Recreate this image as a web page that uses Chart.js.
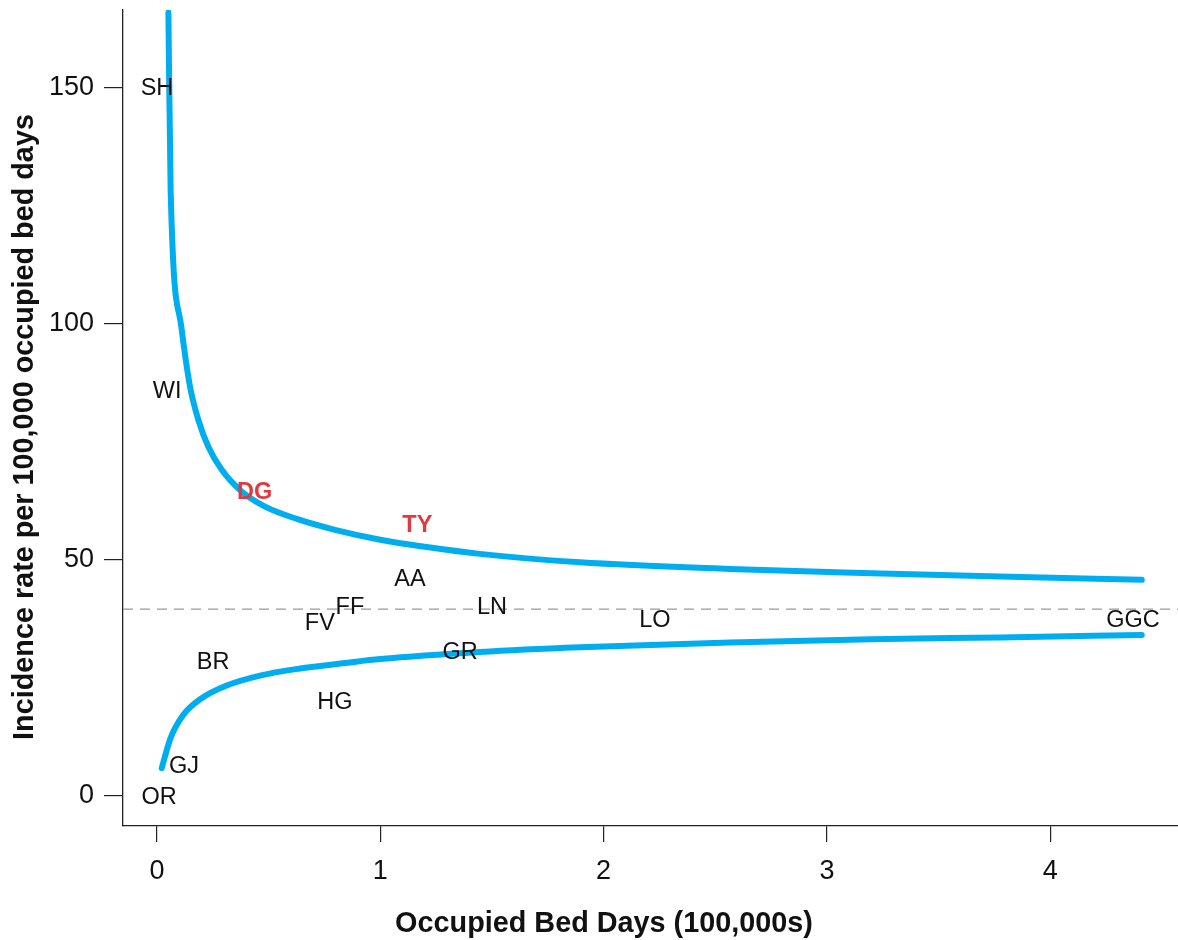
<!DOCTYPE html>
<html>
<head>
<meta charset="utf-8">
<script src="https://cdn.jsdelivr.net/npm/chart.js@4/dist/chart.umd.min.js"></script>
<style>
  html, body { margin: 0; padding: 0; background: #ffffff; }
  canvas { display: block; }
</style>
</head>
<body>
<canvas id="funnel" width="1178" height="940"></canvas>
<script>
// Health boards: occupied bed days (100,000s) and incidence rate per 100,000 OBD
const boards   = ['SH', 'WI', 'DG', 'TY', 'AA', 'FF', 'FV', 'LN', 'LO', 'GR', 'HG', 'BR', 'GJ', 'OR', 'GGC'];
const bedDays  = [0.00, 0.045, 0.437, 1.166, 1.133, 0.864, 0.729, 1.50, 2.23, 1.357, 0.797, 0.251, 0.121, 0.009, 4.371];
const rates    = [150.4, 86.0, 64.8, 57.7, 46.3, 40.4, 37.0, 40.4, 37.6, 30.7, 20.3, 28.7, 6.6, 0.0, 37.6];
const flaggedBoards = ['DG', 'TY'];

// Upper control limit
const upperX = [0.051, 0.061, 0.109, 0.148, 0.185, 0.230, 0.290, 0.379, 0.484, 0.633, 0.797, 1.00, 1.20, 1.446, 1.894, 2.566, 3.20, 3.775, 4.41];
const upperY = [166.0, 128.4, 99.4, 86.7, 79.7, 74.0, 69.1, 64.5, 61.3, 58.6, 56.4, 54.3, 52.8, 51.3, 49.5, 48.1, 47.2, 46.5, 45.8];

// Lower control limit
const lowerX = [0.021, 0.061, 0.118, 0.193, 0.312, 0.461, 0.640, 0.864, 1.00, 1.446, 1.894, 2.566, 3.20, 3.775, 4.41];
const lowerY = [5.9, 12.3, 17.2, 20.5, 23.4, 25.5, 27.0, 28.3, 29.0, 30.5, 31.5, 32.5, 33.2, 33.6, 34.1];

// Overall (target) rate
const targetRate = 39.6;

// Axis ticks
const xTicks = [0, 1, 2, 3, 4];
const yTicks = [0, 50, 100, 150];

const X_MIN = -0.1523, X_MAX = 4.5723;
const Y_MIN = -6.36,  Y_MAX = 166.53;

const FONT = '"Liberation Sans", Arial, Helvetica, sans-serif';
const CYAN = '#00AEEF';
const RED = '#E03A40';
const INK = '#111111';
const AXIS = '#222222';

const toPoints = (xs, ys) => xs.map((v, i) => ({ x: v, y: ys[i] }));

const annotate = {
  id: 'annotate',
  afterDatasetsDraw(chart) {
    const { ctx, scales: { x, y } } = chart;
    ctx.save();
    ctx.textAlign = 'center';
    ctx.textBaseline = 'alphabetic';
    const size = 23.5;
    boards.forEach((name, i) => {
      const flagged = flaggedBoards.includes(name);
      ctx.font = (flagged ? 'bold ' : '') + size + 'px ' + FONT;
      ctx.fillStyle = flagged ? RED : INK;
      ctx.fillText(name, x.getPixelForValue(bedDays[i]), y.getPixelForValue(rates[i]) + size * 0.358);
    });
    ctx.restore();
  },
  afterDraw(chart) {
    const { ctx } = chart;
    const tsize = 28.8;
    ctx.save();
    ctx.fillStyle = INK;
    ctx.font = 'bold ' + tsize + 'px ' + FONT;
    ctx.textAlign = 'center';
    ctx.textBaseline = 'alphabetic';
    ctx.fillText('Occupied Bed Days (100,000s)', 604, 922 + tsize * 0.358);
    ctx.translate(23 + tsize * 0.358, 427);
    ctx.rotate(-Math.PI / 2);
    ctx.fillText('Incidence rate per 100,000 occupied bed days', 0, 0);
    ctx.restore();
  }
};

new Chart(document.getElementById('funnel'), {
  type: 'scatter',
  data: {
    datasets: [
      {
        label: 'Upper limit',
        data: toPoints(upperX, upperY),
        showLine: true,
        borderColor: CYAN,
        borderWidth: 6,
        pointRadius: 0,
        cubicInterpolationMode: 'monotone',
        borderCapStyle: 'round',
        borderJoinStyle: 'round',
        fill: false
      },
      {
        label: 'Lower limit',
        data: toPoints(lowerX, lowerY),
        showLine: true,
        borderColor: CYAN,
        borderWidth: 6,
        pointRadius: 0,
        cubicInterpolationMode: 'monotone',
        borderCapStyle: 'round',
        borderJoinStyle: 'round',
        fill: false
      },
      {
        label: 'Overall rate',
        data: [{ x: X_MIN, y: targetRate }, { x: X_MAX, y: targetRate }],
        showLine: true,
        borderColor: '#999999',
        borderWidth: 1.2,
        borderDash: [10, 7],
        pointRadius: 0,
        fill: false
      }
    ]
  },
  options: {
    responsive: false,
    animation: false,
    devicePixelRatio: 1,
    layout: { padding: { top: 10, right: 0, left: 0, bottom: 0 } },
    plugins: {
      legend: { display: false },
      tooltip: { enabled: false }
    },
    scales: {
      x: {
        type: 'linear',
        min: X_MIN,
        max: X_MAX,
        afterBuildTicks: s => { s.ticks = xTicks.map(v => ({ value: v })); },
        afterFit: s => { s.height = 114; s.paddingLeft = 0; s.paddingRight = 0; },
        grid: { drawOnChartArea: false, drawTicks: true, tickLength: 16, color: AXIS, lineWidth: 1.2 },
        border: { display: true, color: AXIS, width: 1.3 },
        ticks: { color: INK, font: { family: FONT, size: 27 }, padding: 13, maxRotation: 0 }
      },
      y: {
        type: 'linear',
        min: Y_MIN,
        max: Y_MAX,
        afterBuildTicks: s => { s.ticks = yTicks.map(v => ({ value: v })); },
        afterFit: s => { s.width = 123; s.paddingTop = 0; s.paddingBottom = 0; },
        grid: { drawOnChartArea: false, drawTicks: true, tickLength: 19, color: AXIS, lineWidth: 1.2 },
        border: { display: true, color: AXIS, width: 1.3 },
        ticks: { color: INK, font: { family: FONT, size: 27 }, padding: 10 }
      }
    }
  },
  plugins: [annotate]
});
</script>
</body>
</html>
